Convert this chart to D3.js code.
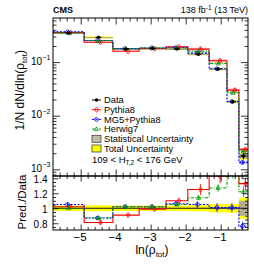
<!DOCTYPE html>
<html>
<head>
<meta charset="utf-8">
<script src="https://cdn.jsdelivr.net/npm/d3@7"></script>
<style>
  body { margin: 0; background: #fff; }
  svg { display: block; }
  text { font-family: "Liberation Sans", Arial, Helvetica, sans-serif; fill: #000; }
</style>
</head>
<body>
<div id="chart"></div>
<script>
// bin edges in ln(rho_tot)
const binEdges = [-5.79, -4.9, -4.08, -3.33, -2.56, -1.94, -1.33, -0.82, -0.48, -0.22];
const dataVals = [0.349, 0.29, 0.175, 0.18, 0.175, 0.14, 0.0743, 0.0182, 0.00177];
const statUnc = [0.004, 0.005, 0.005, 0.005, 0.006, 0.008, 0.012, 0.02, 0.10];   // relative
const totUnc = [0.035, 0.04, 0.035, 0.035, 0.035, 0.04, 0.055, 0.06, 0.14];      // relative

const pythia8 = [0.356, 0.235, 0.159, 0.178, 0.1925, 0.175, 0.1062, 0.0300, 0.00235];
const mg5 = [0.3665, 0.2523, 0.1785, 0.1836, 0.1855, 0.147, 0.0750, 0.01838, 0.001345];
const herwig7 = [0.349, 0.2523, 0.1785, 0.1836, 0.1838, 0.1596, 0.0944, 0.02675, 0.00216];
const pythiaErr = [0.03, 0.04, 0.02, 0.02, 0.03, 0.06, 0.07, 0.08, 0.06];
const mg5Err = [0.03, 0.03, 0.02, 0.02, 0.03, 0.04, 0.06, 0.06, 0.08];
const herwigErr = [0.02, 0.02, 0.02, 0.02, 0.02, 0.03, 0.04, 0.05, 0.06];

const xTicks = [-5, -4, -3, -2, -1];
const yTopTicks = [1e-3, 1e-2, 1e-1];
const yTopLabels = ['-3', '-2', '-1'];
const ratioTicks = [0.8, 1, 1.2, 1.4];
const ratioLabels = ['0.8', '1', '1.2', '1.4'];

const models = [
  { name: 'Pythia8', vals: pythia8, err: pythiaErr, color: '#ff0000', dash: null, band: 'rgba(255,80,80,0.35)', marker: 'diamond', off: 2 },
  { name: 'MG5+Pythia8', vals: mg5, err: mg5Err, color: '#0000ff', dash: '2,1.5', band: 'rgba(120,170,255,0.35)', marker: 'circle', off: -1 },
  { name: 'Herwig7', vals: herwig7, err: herwigErr, color: '#009900', dash: '3,1.5,1,1.5', band: 'rgba(90,200,90,0.3)', marker: 'triangle', off: 0 }
];

const width = 254, height = 271;
const padL = 53, padR = 248, padT = 18, padSplit = 176, padB = 230;

const svg = d3.select('#chart').append('svg')
  .attr('width', width).attr('height', height);

const x = d3.scaleLinear().domain([binEdges[0], binEdges[binEdges.length - 1]]).range([padL, padR]);
const yTop = d3.scaleLog().domain([7.5e-4, 0.665]).range([padSplit, padT]);
const yR = d3.scaleLinear().domain([0.71, 1.43]).range([padB, padSplit]);

const defs = svg.append('defs');
defs.append('clipPath').attr('id', 'clipTop').append('rect')
  .attr('x', padL).attr('y', padT).attr('width', padR - padL).attr('height', padSplit - padT);
defs.append('clipPath').attr('id', 'clipRatio').append('rect')
  .attr('x', padL).attr('y', padSplit).attr('width', padR - padL).attr('height', padB - padSplit);

const nb = dataVals.length;
const centers = d3.range(nb).map(i => (binEdges[i] + binEdges[i + 1]) / 2);

function stepPath(vals, y) {
  const pts = binEdges.map((e, i) => [x(e), y(vals[Math.min(i, nb - 1)])]);
  return d3.line().curve(d3.curveStepAfter)(pts);
}

function drawMarker(g, type, cx, cy, color) {
  if (type === 'diamond') {
    g.append('path').attr('d', `M${cx},${cy - 2.6}L${cx + 2},${cy}L${cx},${cy + 2.6}L${cx - 2},${cy}Z`)
      .attr('fill', 'none').attr('stroke', color).attr('stroke-width', 0.8);
  } else if (type === 'circle') {
    g.append('circle').attr('cx', cx).attr('cy', cy).attr('r', 1.9)
      .attr('fill', 'none').attr('stroke', color).attr('stroke-width', 0.8);
  } else {
    g.append('path').attr('d', `M${cx},${cy - 2.3}L${cx + 2.1},${cy + 1.5}L${cx - 2.1},${cy + 1.5}Z`)
      .attr('fill', 'none').attr('stroke', color).attr('stroke-width', 0.8);
  }
}

// ---------- top panel ----------
const gTop = svg.append('g').attr('clip-path', 'url(#clipTop)');

d3.range(nb).forEach(i => {
  const x0 = x(binEdges[i]), x1 = x(binEdges[i + 1]);
  gTop.append('rect').attr('x', x0).attr('width', x1 - x0)
    .attr('y', yTop(dataVals[i] * (1 + totUnc[i])))
    .attr('height', yTop(dataVals[i] * (1 - totUnc[i])) - yTop(dataVals[i] * (1 + totUnc[i])))
    .attr('fill', '#ffff00');
  gTop.append('rect').attr('x', x0).attr('width', x1 - x0)
    .attr('y', yTop(dataVals[i] * (1 + statUnc[i])))
    .attr('height', Math.max(1, yTop(dataVals[i] * (1 - statUnc[i])) - yTop(dataVals[i] * (1 + statUnc[i]))))
    .attr('fill', '#a8a080');
});

models.forEach(m => {
  d3.range(nb).forEach(i => {
    const x0 = x(binEdges[i]), x1 = x(binEdges[i + 1]);
    gTop.append('rect').attr('x', x0).attr('width', x1 - x0)
      .attr('y', yTop(m.vals[i] * (1 + m.err[i])))
      .attr('height', yTop(m.vals[i] * (1 - m.err[i])) - yTop(m.vals[i] * (1 + m.err[i])))
      .attr('fill', m.band);
  });
});

models.forEach(m => {
  gTop.append('path').attr('d', stepPath(m.vals, yTop))
    .attr('fill', 'none').attr('stroke', m.color).attr('stroke-width', 1.1)
    .attr('stroke-dasharray', m.dash);
});

models.forEach(m => {
  d3.range(nb).forEach(i => {
    const cx = x(centers[i]) + m.off, cy = yTop(m.vals[i]);
    gTop.append('line').attr('x1', cx).attr('x2', cx)
      .attr('y1', yTop(m.vals[i] * (1 + m.err[i]))).attr('y2', yTop(m.vals[i] * (1 - m.err[i])))
      .attr('stroke', m.color).attr('stroke-width', 0.8);
    drawMarker(gTop, m.marker, cx, cy, m.color);
  });
});

d3.range(nb).forEach(i => {
  const cx = x(centers[i]), cy = yTop(dataVals[i]);
  gTop.append('line').attr('x1', cx - 3).attr('x2', cx + 3).attr('y1', cy).attr('y2', cy)
    .attr('stroke', '#000').attr('stroke-width', 1.2);
  gTop.append('line').attr('x1', cx).attr('x2', cx)
    .attr('y1', yTop(dataVals[i] * (1 + totUnc[i]))).attr('y2', yTop(dataVals[i] * (1 - totUnc[i])))
    .attr('stroke', '#000').attr('stroke-width', 0.9);
  gTop.append('circle').attr('cx', cx).attr('cy', cy).attr('r', 1.7).attr('fill', '#000');
});

// ---------- ratio panel ----------
const gR = svg.append('g').attr('clip-path', 'url(#clipRatio)');

d3.range(nb).forEach(i => {
  const x0 = x(binEdges[i]), x1 = x(binEdges[i + 1]);
  gR.append('rect').attr('x', x0).attr('width', x1 - x0)
    .attr('y', yR(1 + totUnc[i])).attr('height', yR(1 - totUnc[i]) - yR(1 + totUnc[i]))
    .attr('fill', '#ffff00');
  gR.append('rect').attr('x', x0).attr('width', x1 - x0)
    .attr('y', yR(1 + statUnc[i])).attr('height', Math.max(0.8, yR(1 - statUnc[i]) - yR(1 + statUnc[i])))
    .attr('fill', '#b4ac90');
});

gR.append('line').attr('x1', padL).attr('x2', padR).attr('y1', yR(1)).attr('y2', yR(1))
  .attr('stroke', '#000').attr('stroke-width', 0.8);

models.forEach(m => {
  const ratio = m.vals.map((v, i) => v / dataVals[i]);
  gR.append('path').attr('d', stepPath(ratio, yR))
    .attr('fill', 'none').attr('stroke', m.color).attr('stroke-width', 1.1)
    .attr('stroke-dasharray', m.dash);
  d3.range(nb).forEach(i => {
    const cx = x(centers[i]) + m.off, cy = yR(ratio[i]);
    gR.append('line').attr('x1', cx).attr('x2', cx)
      .attr('y1', yR(ratio[i] * (1 + m.err[i]))).attr('y2', yR(ratio[i] * (1 - m.err[i])))
      .attr('stroke', m.color).attr('stroke-width', 0.8);
    drawMarker(gR, m.marker, cx, cy, m.color);
  });
});

// ---------- frames and axes ----------
function cleanAxis(g) {
  g.select('.domain').remove();
  g.selectAll('line').attr('stroke', '#000').attr('stroke-width', 0.8);
  g.selectAll('text').remove();
}

const xMinor = d3.range(-5.6, -0.2, 0.2).map(v => +v.toFixed(1)).filter(v => !xTicks.includes(v));
const logMinor = [];
[-4, -3, -2, -1].forEach(p => d3.range(2, 10).forEach(k => {
  const v = k * Math.pow(10, p);
  if (v > yTop.domain()[0] && v < yTop.domain()[1]) logMinor.push(v);
}));
const ratioMinor = d3.range(0.75, 1.43, 0.05).map(v => +v.toFixed(2)).filter(v => !ratioTicks.includes(v));

// top panel x ticks (top & bottom edges)
[[d3.axisTop, padT], [d3.axisBottom, padSplit]].forEach(([ax, yy]) => {
  svg.append('g').attr('transform', `translate(0,${yy})`)
    .call(ax(x).tickValues(xTicks).tickSize(-6.5).tickSizeOuter(0)).call(cleanAxis);
  svg.append('g').attr('transform', `translate(0,${yy})`)
    .call(ax(x).tickValues(xMinor).tickSize(-3.5).tickSizeOuter(0)).call(cleanAxis);
});
// top panel y ticks
[[d3.axisLeft, padL], [d3.axisRight, padR]].forEach(([ax, xx]) => {
  svg.append('g').attr('transform', `translate(${xx},0)`)
    .call(ax(yTop).tickValues(yTopTicks).tickSize(-7).tickSizeOuter(0)).call(cleanAxis);
  svg.append('g').attr('transform', `translate(${xx},0)`)
    .call(ax(yTop).tickValues(logMinor).tickSize(-3.5).tickSizeOuter(0)).call(cleanAxis);
});
// ratio x ticks
[[d3.axisTop, padSplit], [d3.axisBottom, padB]].forEach(([ax, yy]) => {
  svg.append('g').attr('transform', `translate(0,${yy})`)
    .call(ax(x).tickValues(xTicks).tickSize(-5.5).tickSizeOuter(0)).call(cleanAxis);
  svg.append('g').attr('transform', `translate(0,${yy})`)
    .call(ax(x).tickValues(xMinor).tickSize(-3).tickSizeOuter(0)).call(cleanAxis);
});
// ratio y ticks
[[d3.axisLeft, padL], [d3.axisRight, padR]].forEach(([ax, xx]) => {
  svg.append('g').attr('transform', `translate(${xx},0)`)
    .call(ax(yR).tickValues(ratioTicks).tickSize(-5.5).tickSizeOuter(0)).call(cleanAxis);
  svg.append('g').attr('transform', `translate(${xx},0)`)
    .call(ax(yR).tickValues(ratioMinor).tickSize(-3).tickSizeOuter(0)).call(cleanAxis);
});

svg.append('rect').attr('x', padL).attr('y', padT).attr('width', padR - padL).attr('height', padSplit - padT)
  .attr('fill', 'none').attr('stroke', '#000').attr('stroke-width', 1);
svg.append('rect').attr('x', padL).attr('y', padSplit).attr('width', padR - padL).attr('height', padB - padSplit)
  .attr('fill', 'none').attr('stroke', '#000').attr('stroke-width', 1);

// tick labels
yTopTicks.forEach((v, i) => {
  svg.append('text').attr('x', 42).attr('y', yTop(v) + 2.5)
    .attr('text-anchor', 'end').style('font-size', '10px').text('10');
  svg.append('text').attr('x', 42.5).attr('y', yTop(v) - 2)
    .style('font-size', '7px').text('\u2212' + yTopLabels[i].slice(1));
});
ratioTicks.forEach((v, i) => {
  svg.append('text').attr('x', 47.5).attr('y', yR(v) + 4.3)
    .attr('text-anchor', 'end').style('font-size', '10px').text(ratioLabels[i]);
});
xTicks.forEach(v => {
  svg.append('text').attr('x', x(v) - 0.5).attr('y', 240.5)
    .attr('text-anchor', 'middle').style('font-size', '11.5px').text('\u2212' + Math.abs(v));
});

// axis titles
const yt = svg.append('text').attr('transform', 'translate(24,50) rotate(-90)')
  .attr('text-anchor', 'end').style('font-size', '12px');
yt.append('tspan').text('1/N dN/dln(\u03c1');
yt.append('tspan').attr('dy', 2.5).style('font-size', '8px').text('tot');
yt.append('tspan').attr('dy', -2.5).text(')');

svg.append('text').attr('transform', 'translate(26,202) rotate(-90)')
  .attr('text-anchor', 'middle').style('font-size', '11.5px').text('Pred./Data');

const xt = svg.append('text').attr('x', 152).attr('y', 254)
  .attr('text-anchor', 'middle').style('font-size', '12px');
xt.append('tspan').text('ln(\u03c1');
xt.append('tspan').attr('dy', 2.5).style('font-size', '8px').text('tot');
xt.append('tspan').attr('dy', -2.5).text(')');

// header
svg.append('text').attr('x', 53).attr('y', 13).style('font-size', '9px').style('font-weight', 'bold').text('CMS');
const lumi = svg.append('text').attr('x', 248).attr('y', 13).attr('text-anchor', 'end').style('font-size', '9px');
lumi.append('tspan').text('138 fb');
lumi.append('tspan').attr('dy', -3).style('font-size', '6.5px').text('-1');
lumi.append('tspan').attr('dy', 3).text(' (13 TeV)');

// legend
const legX = 92, legY = 100, legDy = 9.7;
const lg = svg.append('g');
lg.append('line').attr('x1', legX).attr('x2', legX + 9).attr('y1', legY).attr('y2', legY)
  .attr('stroke', '#000').attr('stroke-width', 1);
lg.append('circle').attr('cx', legX + 4.5).attr('cy', legY).attr('r', 1.7).attr('fill', '#000');
lg.append('text').attr('x', legX + 12).attr('y', legY + 3.3).style('font-size', '9.3px').text('Data');
models.forEach((m, i) => {
  const yy = legY + legDy * (i + 1);
  lg.append('line').attr('x1', legX).attr('x2', legX + 9).attr('y1', yy).attr('y2', yy)
    .attr('stroke', m.color).attr('stroke-width', 1).attr('stroke-dasharray', m.dash);
  drawMarker(lg, m.marker, legX + 4.5, yy, m.color);
  lg.append('text').attr('x', legX + 12).attr('y', yy + 3.3).style('font-size', '9.3px').text(m.name);
});
[['Statistical Uncertainty', '#c4bca0'], ['Total Uncertainty', '#ffff00']].forEach((d, i) => {
  const yy = legY + legDy * (i + 4);
  lg.append('rect').attr('x', legX).attr('y', yy - 3.5).attr('width', 9).attr('height', 7)
    .attr('fill', d[1]).attr('stroke', '#444').attr('stroke-width', 0.8);
  lg.append('text').attr('x', legX + 12).attr('y', yy + 3.3).style('font-size', '9.3px').text(d[0]);
});
const ht = svg.append('text').attr('x', 92).attr('y', 163).style('font-size', '9.5px');
ht.append('tspan').text('109 < H');
ht.append('tspan').attr('dy', 2.2).style('font-size', '6.5px').text('T,2');
ht.append('tspan').attr('dy', -2.2).text(' < 176 GeV');
</script>
</body>
</html>
